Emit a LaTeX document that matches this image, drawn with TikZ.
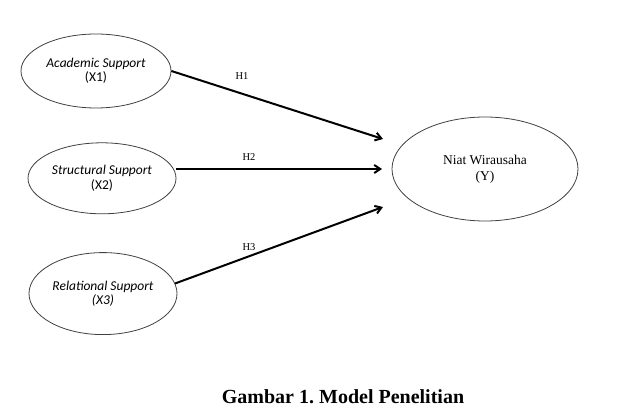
\documentclass[tikz,border=0pt]{standalone}
\usepackage{fontspec}
\setmainfont{Liberation Serif}
\newfontfamily\calibrifont{Carlito}
\usetikzlibrary{arrows.meta,positioning,shapes.geometric}
\tikzset{
  construct/.style={
    draw=black!75,
    ellipse,
    line width=0.8pt,
    inner sep=0pt,
    minimum width=148pt,
    minimum height=74pt,
    align=center,
    font=\calibrifont\fontsize{13.5}{14.5}\selectfont,
    fill=white
  },
  target/.style={
    draw=black!75,
    ellipse,
    line width=0.8pt,
    inner sep=0pt,
    minimum width=186pt,
    minimum height=104pt,
    align=center,
    font=\fontsize{13.5}{16}\selectfont
  },
  hlabel/.style={font=\fontsize{10.5}{12}\selectfont},
  flow/.style={-{Straight Barb[length=6pt,width=8pt]}, line width=2pt}
}

\begin{document}
\begin{tikzpicture}[x=1pt,y=-1pt,node distance=34pt]
  \useasboundingbox (0,0) rectangle (620,411);

  \node[construct, minimum width=150pt] (x1) at (96,71) {\textit{Academic Support}\\(X1)};
  \node[construct, minimum height=71pt, below=34pt of x1.south, anchor=north, xshift=6pt] (x2) {\textit{Structural Support}\\(X2)};
  \node[construct, minimum height=82pt, below=38pt of x2.south, anchor=north, xshift=1pt] (x3) {\textit{Relational Support}\\\textit{(X3)}};
  \node[target] (y) at (485,169) {Niat Wirausaha\\(Y)};

  \coordinate (end1) at (383,139);
  \coordinate (end2) at (382,169);
  \coordinate (end3) at (383,207);

  \draw[flow] (x1.east) -- (end1);
  \draw[flow] (x2.east |- end2) -- (end2);
  \draw[flow] (x3.8) -- (end3);

  \node[hlabel] (h1) at (242,76) {H1};
  \node[hlabel] (h2) at (249,157) {H2};
  \node[hlabel] (h3) at (249,247) {H3};

  \node[font=\bfseries\fontsize{20}{22}\selectfont] (caption) at (343,397) {Gambar 1.\ Model Penelitian};
\end{tikzpicture}
\end{document}
